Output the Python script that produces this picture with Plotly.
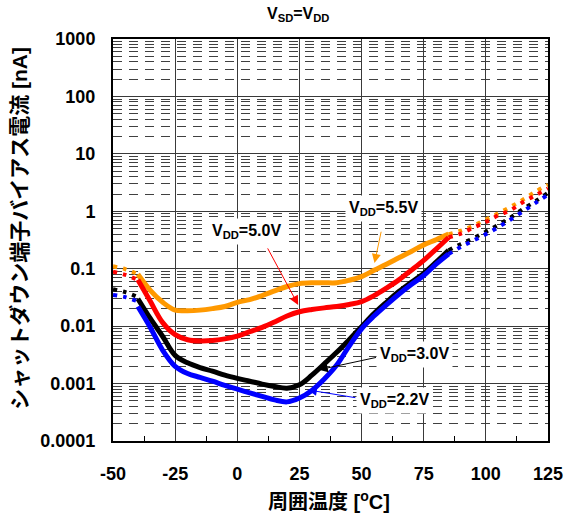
import numpy as np
import plotly.graph_objects as go

# Ambient temperature [degC]
temp_solid = [-40, -35, -30, -25, -20, -15, -10, -5, 0, 5, 10, 15, 20, 25, 30,
              35, 40, 45, 50, 55, 60, 65, 70, 75, 80, 85]
temp_low = [-50, -45, -40]
temp_high = [85, 90, 95, 100, 105, 110, 115, 120, 125]

# Shutdown pin bias current [nA], measured range (solid)
i_55 = [0.08, 0.042, 0.026, 0.019, 0.0186, 0.019, 0.0202, 0.022, 0.026, 0.029,
        0.034, 0.041, 0.049, 0.055, 0.057, 0.057, 0.057, 0.063, 0.073, 0.094,
        0.12, 0.155, 0.20, 0.26, 0.32, 0.40]
i_50 = [0.064, 0.027, 0.0115, 0.0071, 0.0058, 0.0055, 0.0056, 0.006, 0.0067,
        0.008, 0.0095, 0.0118, 0.015, 0.0178, 0.0195, 0.0208, 0.022, 0.0238,
        0.0267, 0.034, 0.046, 0.064, 0.094, 0.14, 0.22, 0.35]
i_30 = [0.030, 0.0136, 0.0066, 0.0031, 0.0023, 0.0019, 0.00165, 0.0014, 0.00123,
        0.0011, 0.00098, 0.00089, 0.00083, 0.00095, 0.0014, 0.0022, 0.0035,
        0.0058, 0.0098, 0.0165, 0.026, 0.040, 0.058, 0.083, 0.13, 0.21]
i_22 = [0.022, 0.0095, 0.0038, 0.0020, 0.0015, 0.00128, 0.0011, 0.00093, 0.0008,
        0.00069, 0.0006, 0.00052, 0.00048, 0.00056, 0.00076, 0.0012, 0.0021,
        0.0045, 0.009, 0.015, 0.0235, 0.036, 0.053, 0.076, 0.12, 0.18]

# Extrapolated ranges (dotted)
i_55_low = [0.11, 0.098, 0.08]
i_50_low = [0.089, 0.078, 0.064]
i_30_low = [0.044, 0.039, 0.032]
i_22_low = [0.035, 0.032, 0.027]
i_55_high = [0.40, 0.46, 0.56, 0.72, 0.92, 1.2, 1.6, 2.2, 2.9]
i_50_high = [0.35, 0.41, 0.52, 0.65, 0.85, 1.05, 1.45, 1.9, 2.5]
i_30_high = [0.21, 0.27, 0.34, 0.44, 0.58, 0.78, 1.1, 1.5, 2.1]
i_22_high = [0.18, 0.24, 0.31, 0.40, 0.53, 0.72, 1.0, 1.4, 1.95]

x_ticks = [-50, -25, 0, 25, 50, 75, 100, 125]
x_ticktext = ["-50", "-25", "0", "25", "50", "75", "100", "125"]
y_ticks = [1e-4, 1e-3, 1e-2, 1e-1, 1, 10, 100, 1000]
y_ticktext = ["0.0001", "0.001", "0.01", "0.1", "1", "10", "100", "1000"]

series = [
    ("5.5V", "#FF9900", i_55, i_55_low, i_55_high),
    ("5.0V", "#FF0000", i_50, i_50_low, i_50_high),
    ("3.0V", "#000000", i_30, i_30_low, i_30_high),
    ("2.2V", "#0000FF", i_22, i_22_low, i_22_high),
]

FONT = "Liberation Sans, Arial, Noto Sans CJK JP, sans-serif"

fig = go.Figure()
for name, color, solid, low, high in series:
    fig.add_trace(go.Scatter(x=temp_low, y=low, mode="lines",
                             line=dict(color=color, width=4, dash="4px,6px", shape="spline"),
                             showlegend=False, hoverinfo="skip"))
    fig.add_trace(go.Scatter(x=temp_high, y=high, mode="lines",
                             line=dict(color=color, width=4, dash="4px,6px", shape="spline"),
                             showlegend=False, hoverinfo="skip"))
    fig.add_trace(go.Scatter(x=temp_solid, y=solid, mode="lines", name="VDD=" + name,
                             line=dict(color=color, width=5, shape="spline", smoothing=1.0),
                             showlegend=False))

minor_y = [m * 10.0 ** k for k in range(-4, 3) for m in range(2, 10)]
minor_x = [v + 12.5 for v in x_ticks[:-1]]

fig.update_xaxes(
    range=[-50, 125], tickvals=x_ticks, ticktext=x_ticktext, ticks="",
    showline=True, linecolor="black", linewidth=2, mirror=True,
    showgrid=True, gridcolor="#3a3a3a", gridwidth=1, zeroline=False,
    tickfont=dict(family=FONT, size=18, color="black", weight="bold"),
    ticklabelstandoff=15,
    minor=dict(tickvals=minor_x, ticks="inside", ticklen=5, tickcolor="black",
               showgrid=False),
)
fig.update_yaxes(
    type="log", range=[-4, 3], tickvals=y_ticks, ticktext=y_ticktext, ticks="",
    showline=True, linecolor="black", linewidth=2, mirror=True,
    showgrid=True, gridcolor="#3a3a3a", gridwidth=1, zeroline=False,
    tickfont=dict(family=FONT, size=18, color="black", weight="bold"),
    ticklabelstandoff=12,
    minor=dict(tickvals=minor_y, ticks="", showgrid=True, gridcolor="#404040",
               gridwidth=1, griddash="9px,7px"),
)

ann = []
# curve labels
labels = [
    ("5.5V", 58.8, 0.04),
    ("5.0V", 3.6, -0.36),
    ("3.0V", 71.4, -2.50),
    ("2.2V", 63.1, -3.29),
]
for text, x, ly in labels:
    ann.append(dict(x=x, y=ly, xref="x", yref="y", showarrow=False,
                    text="V<sub>DD</sub>=" + text, bgcolor="white", borderpad=3,
                    font=dict(family=FONT, size=16, color="black", weight="bold")))
# pointer arrows (head x/y, tail x/y)
arrows = [
    ("#FF9900", 55.2, -0.90, 58.0, -0.33),
    ("#FF0000", 24.5, -1.63, 11.9, -0.62),
    ("#000000", 32.8, -2.76, 56.4, -2.54),
    ("#0000FF", 28.4, -3.11, 48.1, -3.25),
]
for color, hx, hy, tx, ty in arrows:
    ann.append(dict(x=hx, y=hy, ax=tx, ay=ty, xref="x", yref="y", axref="x", ayref="y",
                    text="", showarrow=True, arrowhead=2, arrowsize=1.8, arrowwidth=1,
                    arrowcolor=color, standoff=0, startstandoff=0))
# titles
ann.append(dict(x=0.4257, y=1.06, xref="paper", yref="paper", showarrow=False,
                xanchor="center", yanchor="middle",
                text="V<sub>SD</sub>=V<sub>DD</sub>",
                font=dict(family=FONT, size=16, color="black", weight="bold")))
ann.append(dict(x=0.4955, y=-0.149, xref="paper", yref="paper", showarrow=False,
                xanchor="center", yanchor="middle",
                text="周囲温度 [<sup>o</sup>C]",
                font=dict(family=FONT, size=20, color="black", weight="bold")))
ann.append(dict(x=-0.214, y=0.53, xref="paper", yref="paper", showarrow=False,
                xanchor="center", yanchor="middle",
                textangle=-90, text="シャットダウン端子バイアス電流 [nA]",
                font=dict(family=FONT, size=21, color="black", weight="bold")))

fig.update_layout(
    width=575, height=517,
    margin=dict(l=113, r=18, t=39, b=76),
    paper_bgcolor="white", plot_bgcolor="white",
    annotations=ann,
)

fig.write_html("out.html")
